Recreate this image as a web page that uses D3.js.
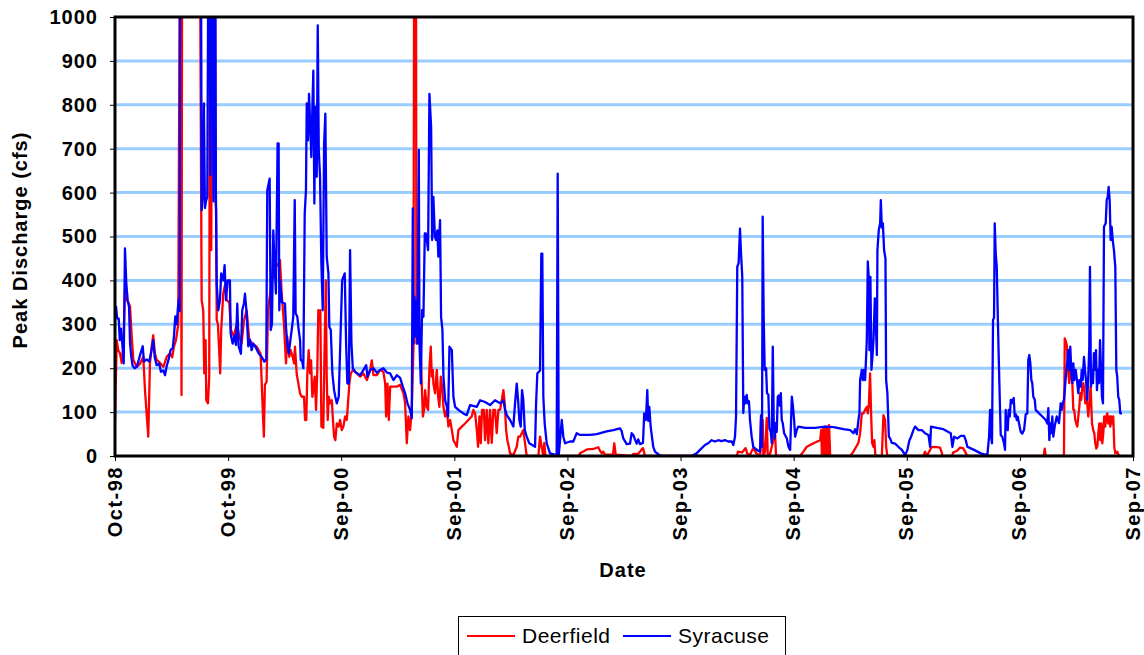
<!DOCTYPE html>
<html>
<head>
<meta charset="utf-8">
<script src="https://cdn.jsdelivr.net/npm/d3@7"></script>
<style>
  body { margin: 0; background: #fff; }
  text { font-family: "Liberation Sans", Arial, sans-serif; }
</style>
</head>
<body>
<svg id="chart" width="1144" height="655"></svg>
<script>
// data, x as decimal year
var seriesNames = ['Deerfield', 'Syracuse'];
var xTickLabels = ['Oct-98', 'Oct-99', 'Sep-00', 'Sep-01', 'Sep-02', 'Sep-03', 'Sep-04', 'Sep-05', 'Sep-06', 'Sep-07'];
var yTicks = [0, 100, 200, 300, 400, 500, 600, 700, 800, 900, 1000];

var deerfield = [
  [1998.748,82],[1998.763,264],[1998.777,241],[1998.792,234],[1998.807,212],[1998.821,245],[1998.836,378],[1998.851,355],
  [1998.866,350],[1998.881,340],[1998.896,272],[1998.910,219],[1998.940,203],[1998.969,210],[1998.998,226],[1999.013,150],
  [1999.042,44],[1999.057,211],[1999.072,249],[1999.086,275],[1999.101,234],[1999.116,219],[1999.146,212],[1999.175,203],
  [1999.205,226],[1999.234,234],[1999.254,225],[1999.269,249],[1999.287,264],[1999.307,300],[1999.327,1500],[1999.336,139],
  [1999.343,1500],[1999.411,1500],[1999.493,1500],[1999.514,355],[1999.528,332],[1999.537,188],[1999.549,264],[1999.555,127],
  [1999.570,120],[1999.581,181],[1999.590,1500],[1999.599,469],[1999.609,1500],[1999.627,1500],[1999.636,583],[1999.642,560],
  [1999.647,310],[1999.658,300],[1999.678,188],[1999.687,287],[1999.705,370],[1999.720,389],[1999.735,355],[1999.758,350],
  [1999.773,287],[1999.799,272],[1999.823,300],[1999.846,275],[1999.867,256],[1999.888,308],[1999.912,332],[1999.935,264],
  [1999.965,256],[2000.000,249],[2000.035,233],[2000.053,112],[2000.064,44],[2000.073,162],[2000.088,169],[2000.100,332],
  [2000.135,400],[2000.177,438],[2000.200,431],[2000.206,446],[2000.221,370],[2000.241,302],[2000.259,211],[2000.270,272],
  [2000.288,226],[2000.300,241],[2000.318,226],[2000.330,211],[2000.338,249],[2000.353,188],[2000.368,165],[2000.383,143],
  [2000.397,135],[2000.418,135],[2000.427,82],[2000.438,82],[2000.447,188],[2000.459,241],[2000.471,188],[2000.480,218],
  [2000.491,135],[2000.500,150],[2000.512,181],[2000.524,105],[2000.535,196],[2000.544,332],[2000.553,310],[2000.562,332],
  [2000.571,67],[2000.588,64],[2000.597,211],[2000.610,400],[2000.618,181],[2000.627,82],[2000.636,135],[2000.648,120],
  [2000.663,127],[2000.671,90],[2000.683,44],[2000.694,36],[2000.707,74],[2000.724,67],[2000.736,82],[2000.751,59],
  [2000.765,67],[2000.780,90],[2000.795,82],[2000.818,166],[2000.830,188],[2000.848,196],[2000.883,188],[2000.913,181],
  [2000.942,188],[2000.972,173],[2001.001,196],[2001.016,218],[2001.030,184],[2001.060,184],[2001.089,196],[2001.118,192],
  [2001.134,165],[2001.142,90],[2001.154,165],[2001.166,82],[2001.178,158],[2001.207,158],[2001.237,158],[2001.266,162],
  [2001.295,143],[2001.310,120],[2001.325,29],[2001.339,90],[2001.354,59],[2001.369,105],[2001.384,249],[2001.392,1500],
  [2001.405,1500],[2001.410,256],[2001.419,347],[2001.428,272],[2001.437,290],[2001.449,226],[2001.467,90],[2001.478,105],
  [2001.487,150],[2001.502,112],[2001.513,105],[2001.525,200],[2001.537,249],[2001.546,181],[2001.555,196],[2001.560,165],
  [2001.575,143],[2001.590,196],[2001.602,135],[2001.613,112],[2001.626,181],[2001.637,158],[2001.649,112],[2001.664,90],
  [2001.679,105],[2001.693,67],[2001.708,82],[2001.723,59],[2001.737,36],[2001.752,29],[2001.767,21],[2001.781,59],
  [2001.811,67],[2001.840,74],[2001.869,82],[2001.899,90],[2001.914,105],[2001.929,97],[2001.944,59],[2001.955,21],
  [2001.967,90],[2001.979,29],[2001.990,105],[2002.006,105],[2002.017,36],[2002.032,105],[2002.046,29],[2002.061,105],
  [2002.076,30],[2002.090,105],[2002.105,105],[2002.120,52],[2002.135,105],[2002.150,105],[2002.179,150],[2002.191,120],
  [2002.203,59],[2002.214,36],[2002.227,21],[2002.238,6],[2002.267,2],[2002.297,21],[2002.311,44],[2002.326,44],
  [2002.355,59],[2002.370,30],[2002.385,0],[2002.488,0],[2002.503,44],[2002.518,20],[2002.532,0],[2002.541,30],
  [2002.550,0],[2002.847,0],[2002.856,6],[2002.885,10],[2002.916,15],[2002.974,16],[2003.018,20],[2003.033,12],
  [2003.048,6],[2003.062,10],[2003.077,3],[2003.148,3],[2003.159,29],[2003.172,3],[2003.313,0],[2003.327,5],
  [2003.371,5],[2003.413,18],[2003.431,0],[2004.243,0],[2004.252,10],[2004.288,8],[2004.320,18],[2004.334,5],
  [2004.358,3],[2004.387,18],[2004.417,5],[2004.449,0],[2004.455,82],[2004.470,82],[2004.476,0],[2004.491,10],
  [2004.506,87],[2004.515,0],[2004.535,5],[2004.564,36],[2004.579,52],[2004.588,0],[2004.800,0],[2004.829,10],
  [2004.859,21],[2004.918,29],[2004.977,36],[2004.986,59],[2004.992,0],[2005.001,61],[2005.009,0],[2005.018,67],
  [2005.030,0],[2005.039,67],[2005.047,0],[2005.056,70],[2005.065,0],[2005.242,0],[2005.271,10],[2005.295,21],
  [2005.315,30],[2005.330,52],[2005.345,97],[2005.359,97],[2005.374,105],[2005.389,112],[2005.398,97],[2005.407,116],
  [2005.418,188],[2005.427,97],[2005.436,30],[2005.448,21],[2005.456,36],[2005.465,0],[2005.522,0],[2005.536,93],
  [2005.551,82],[2005.560,21],[2005.571,0],[2005.889,0],[2005.904,10],[2005.919,0],[2005.964,21],[2006.008,20],
  [2006.037,19],[2006.061,0],[2006.146,0],[2006.152,8],[2006.187,12],[2006.214,19],[2006.240,18],[2006.258,10],
  [2006.278,0],[2006.953,0],[2006.962,17],[2006.971,0],[2007.132,0],[2007.139,268],[2007.150,260],[2007.159,250],
  [2007.168,196],[2007.179,166],[2007.188,196],[2007.197,188],[2007.206,166],[2007.215,105],[2007.223,105],[2007.232,82],
  [2007.241,74],[2007.250,67],[2007.259,90],[2007.268,112],[2007.276,143],[2007.285,128],[2007.294,158],[2007.303,166],
  [2007.312,150],[2007.321,120],[2007.329,128],[2007.338,120],[2007.347,90],[2007.356,120],[2007.368,158],[2007.380,74],
  [2007.391,59],[2007.400,52],[2007.409,29],[2007.418,17],[2007.427,21],[2007.436,52],[2007.444,74],[2007.453,36],
  [2007.462,74],[2007.471,29],[2007.480,52],[2007.488,90],[2007.497,67],[2007.506,90],[2007.515,97],[2007.524,74],
  [2007.533,90],[2007.542,67],[2007.550,90],[2007.559,74],[2007.568,90],[2007.577,21],[2007.586,6],[2007.603,10],
  [2007.618,0]
];

var syracuse = [
  [1998.748,340],[1998.757,340],[1998.768,313],[1998.781,313],[1998.790,264],[1998.801,290],[1998.812,257],[1998.825,211],
  [1998.836,473],[1998.848,393],[1998.860,355],[1998.872,340],[1998.881,257],[1998.892,226],[1998.904,205],[1998.922,200],
  [1998.940,203],[1998.957,218],[1998.975,235],[1998.993,250],[1999.004,215],[1999.028,220],[1999.051,215],[1999.069,238],
  [1999.086,264],[1999.099,225],[1999.116,207],[1999.139,210],[1999.154,192],[1999.175,195],[1999.190,184],[1999.205,205],
  [1999.222,220],[1999.240,242],[1999.258,245],[1999.269,272],[1999.281,318],[1999.293,300],[1999.305,340],[1999.313,358],
  [1999.320,330],[1999.325,1500],[1999.411,1400],[1999.505,1500],[1999.514,560],[1999.526,600],[1999.534,803],[1999.543,565],
  [1999.552,580],[1999.564,590],[1999.579,1500],[1999.592,640],[1999.605,1500],[1999.618,580],[1999.632,1500],[1999.640,600],
  [1999.647,393],[1999.661,332],[1999.676,355],[1999.687,416],[1999.705,400],[1999.717,435],[1999.729,355],[1999.744,400],
  [1999.764,400],[1999.770,279],[1999.788,256],[1999.806,275],[1999.817,253],[1999.829,347],[1999.841,250],[1999.861,233],
  [1999.873,332],[1999.888,348],[1999.897,370],[1999.912,325],[1999.926,250],[1999.941,265],[1999.956,241],[1999.970,256],
  [1999.991,248],[2000.020,233],[2000.044,226],[2000.067,215],[2000.085,220],[2000.094,605],[2000.115,632],[2000.124,287],
  [2000.135,300],[2000.147,514],[2000.159,430],[2000.170,370],[2000.185,712],[2000.194,712],[2000.200,332],[2000.206,400],
  [2000.223,350],[2000.250,347],[2000.259,294],[2000.270,256],[2000.283,234],[2000.294,256],[2000.309,287],[2000.323,317],
  [2000.336,583],[2000.344,325],[2000.359,317],[2000.371,287],[2000.383,264],[2000.389,218],[2000.400,218],[2000.412,200],
  [2000.424,552],[2000.435,605],[2000.442,803],[2000.453,719],[2000.462,825],[2000.471,765],[2000.482,681],[2000.491,787],
  [2000.500,878],[2000.509,575],[2000.518,795],[2000.530,636],[2000.539,981],[2000.548,697],[2000.559,636],[2000.571,438],
  [2000.583,332],[2000.595,712],[2000.606,780],[2000.618,454],[2000.633,416],[2000.641,294],[2000.654,287],[2000.668,188],
  [2000.683,150],[2000.694,135],[2000.707,120],[2000.724,135],[2000.736,241],[2000.754,400],[2000.765,408],[2000.777,416],
  [2000.789,256],[2000.800,165],[2000.813,165],[2000.824,469],[2000.836,256],[2000.848,200],[2000.868,192],[2000.889,188],
  [2000.913,184],[2000.942,196],[2000.966,207],[2000.977,181],[2001.001,196],[2001.030,200],[2001.060,190],[2001.089,196],
  [2001.118,200],[2001.149,190],[2001.178,188],[2001.207,173],[2001.237,184],[2001.266,178],[2001.290,158],[2001.310,143],
  [2001.331,120],[2001.354,105],[2001.369,86],[2001.378,564],[2001.384,256],[2001.392,363],[2001.405,272],[2001.414,355],
  [2001.419,256],[2001.431,697],[2001.437,256],[2001.449,165],[2001.460,332],[2001.472,317],[2001.484,507],[2001.493,507],
  [2001.502,492],[2001.513,469],[2001.525,825],[2001.540,750],[2001.549,492],[2001.560,590],[2001.573,500],[2001.584,492],
  [2001.595,514],[2001.604,454],[2001.619,537],[2001.628,317],[2001.640,287],[2001.649,181],[2001.664,127],[2001.679,112],
  [2001.690,90],[2001.702,249],[2001.723,241],[2001.737,135],[2001.752,112],[2001.781,105],[2001.825,97],[2001.855,93],
  [2001.884,116],[2001.944,112],[2001.973,127],[2002.017,123],[2002.061,116],[2002.105,127],[2002.150,120],[2002.179,127],
  [2002.194,105],[2002.209,93],[2002.238,82],[2002.267,67],[2002.282,120],[2002.297,165],[2002.309,127],[2002.320,82],
  [2002.332,67],[2002.344,150],[2002.355,127],[2002.368,59],[2002.385,44],[2002.408,29],[2002.459,21],[2002.468,120],
  [2002.479,188],[2002.503,195],[2002.514,461],[2002.523,461],[2002.532,135],[2002.544,74],[2002.562,29],[2002.591,6],
  [2002.650,2],[2002.659,643],[2002.668,2],[2002.680,36],[2002.695,82],[2002.709,44],[2002.724,29],[2002.768,33],
  [2002.797,33],[2002.827,52],[2002.856,48],[2002.945,48],[2003.004,50],[2003.092,56],[2003.151,59],[2003.210,63],
  [2003.225,56],[2003.239,40],[2003.269,27],[2003.298,28],[2003.313,52],[2003.327,48],[2003.342,38],[2003.357,28],
  [2003.371,38],[2003.386,27],[2003.413,30],[2003.424,97],[2003.439,82],[2003.451,150],[2003.460,80],[2003.469,112],
  [2003.481,67],[2003.492,44],[2003.504,21],[2003.519,10],[2003.548,4],[2003.578,0],[2003.843,0],[2003.887,6],
  [2003.917,14],[2003.961,25],[2003.990,29],[2004.020,36],[2004.049,33],[2004.078,36],[2004.108,34],[2004.137,36],
  [2004.167,33],[2004.197,33],[2004.211,25],[2004.226,44],[2004.235,90],[2004.246,431],[2004.258,440],[2004.270,518],
  [2004.279,462],[2004.290,408],[2004.299,98],[2004.308,135],[2004.317,120],[2004.329,139],[2004.338,120],[2004.349,125],
  [2004.358,82],[2004.373,44],[2004.387,21],[2004.417,14],[2004.447,10],[2004.455,93],[2004.464,21],[2004.470,545],
  [2004.479,314],[2004.488,196],[2004.500,200],[2004.508,143],[2004.520,140],[2004.529,63],[2004.541,55],[2004.550,29],
  [2004.559,249],[2004.568,67],[2004.576,40],[2004.585,75],[2004.594,55],[2004.603,135],[2004.612,138],[2004.621,115],
  [2004.630,143],[2004.638,82],[2004.647,75],[2004.659,52],[2004.683,40],[2004.697,21],[2004.712,14],[2004.727,135],
  [2004.736,115],[2004.747,82],[2004.756,44],[2004.771,60],[2004.785,67],[2004.844,64],[2004.933,64],[2005.021,67],
  [2005.094,66],[2005.183,61],[2005.242,59],[2005.271,52],[2005.286,61],[2005.301,50],[2005.315,82],[2005.324,97],
  [2005.330,173],[2005.345,196],[2005.354,173],[2005.363,196],[2005.374,173],[2005.383,226],[2005.389,264],[2005.398,443],
  [2005.407,401],[2005.412,241],[2005.421,408],[2005.430,196],[2005.439,226],[2005.448,264],[2005.460,359],[2005.469,300],
  [2005.478,230],[2005.483,469],[2005.495,515],[2005.507,530],[2005.513,583],[2005.522,520],[2005.531,530],[2005.542,469],
  [2005.554,450],[2005.560,173],[2005.571,143],[2005.584,44],[2005.595,40],[2005.610,30],[2005.639,28],[2005.668,21],
  [2005.699,14],[2005.728,2],[2005.748,14],[2005.766,36],[2005.781,44],[2005.801,59],[2005.816,67],[2005.845,59],
  [2005.875,59],[2005.904,52],[2005.934,48],[2005.949,21],[2005.957,67],[2006.008,64],[2006.066,61],[2006.131,52],
  [2006.146,21],[2006.161,44],[2006.190,40],[2006.220,46],[2006.249,46],[2006.264,36],[2006.278,21],[2006.337,14],
  [2006.397,6],[2006.455,2],[2006.470,44],[2006.479,105],[2006.487,44],[2006.496,29],[2006.505,310],[2006.514,315],
  [2006.520,530],[2006.529,460],[2006.538,431],[2006.547,320],[2006.556,219],[2006.564,135],[2006.573,48],[2006.587,44],
  [2006.602,29],[2006.611,14],[2006.617,105],[2006.626,67],[2006.635,59],[2006.644,105],[2006.653,90],[2006.662,128],
  [2006.670,120],[2006.679,128],[2006.688,132],[2006.697,90],[2006.706,95],[2006.715,82],[2006.723,90],[2006.735,74],
  [2006.750,55],[2006.764,51],[2006.779,59],[2006.794,95],[2006.808,97],[2006.817,219],[2006.826,230],[2006.835,211],
  [2006.844,173],[2006.852,166],[2006.861,135],[2006.874,128],[2006.882,105],[2006.912,97],[2006.941,90],[2006.971,82],
  [2006.985,74],[2006.994,109],[2007.003,36],[2007.011,74],[2007.020,52],[2007.029,90],[2007.038,44],[2007.050,67],
  [2007.068,90],[2007.088,75],[2007.103,120],[2007.112,105],[2007.121,120],[2007.132,128],[2007.144,166],[2007.153,196],
  [2007.162,215],[2007.170,241],[2007.179,196],[2007.188,249],[2007.197,196],[2007.206,166],[2007.215,211],[2007.223,173],
  [2007.236,196],[2007.250,166],[2007.259,143],[2007.268,173],[2007.280,158],[2007.289,196],[2007.298,173],[2007.309,226],
  [2007.318,196],[2007.327,173],[2007.338,128],[2007.347,181],[2007.356,249],[2007.362,431],[2007.371,158],[2007.380,196],
  [2007.389,166],[2007.397,234],[2007.406,196],[2007.415,241],[2007.424,150],[2007.433,196],[2007.442,166],[2007.451,264],
  [2007.459,203],[2007.468,135],[2007.477,120],[2007.486,522],[2007.501,530],[2007.510,583],[2007.519,590],[2007.527,613],
  [2007.536,583],[2007.545,492],[2007.554,522],[2007.563,492],[2007.574,469],[2007.586,431],[2007.595,196],[2007.603,181],
  [2007.612,135],[2007.621,128],[2007.630,97],[2007.645,97]
];

function toDate(yr) {
  var y0 = Math.floor(yr);
  var a = Date.UTC(y0, 0, 1), b = Date.UTC(y0 + 1, 0, 1);
  return new Date(a + (yr - y0) * (b - a));
}

var plotLeft = 115, plotRight = 1133, plotTop = 17, plotBottom = 456;
var DAY = 864e5;
var startMs = Date.UTC(1998, 9, 1);
// the axis steps by 365 days
var tickDates = xTickLabels.map(function(d, i) { return new Date(startMs + i * 365 * DAY); });

var svg = d3.select('#chart');

var x = d3.scaleUtc()
  .domain([tickDates[0], tickDates[tickDates.length - 1]])
  .range([plotLeft, plotRight]);

var y = d3.scaleLinear()
  .domain([0, 1000])
  .range([plotBottom, plotTop]);

// gridlines
svg.append('g')
  .selectAll('line')
  .data(yTicks.slice(1, -1))
  .join('line')
    .attr('x1', plotLeft)
    .attr('x2', plotRight)
    .attr('y1', function(d) { return y(d); })
    .attr('y2', function(d) { return y(d); })
    .attr('stroke', '#99ccff')
    .attr('stroke-width', 3);

svg.append('defs')
  .append('clipPath')
    .attr('id', 'plot')
  .append('rect')
    .attr('x', plotLeft)
    .attr('y', plotTop)
    .attr('width', plotRight - plotLeft)
    .attr('height', plotBottom - plotTop);

var line = d3.line()
  .x(function(d) { return x(toDate(d[0])); })
  .y(function(d) { return y(d[1]); });

var lines = svg.append('g').attr('clip-path', 'url(#plot)');

lines.append('path')
  .datum(deerfield)
  .attr('d', line)
  .attr('fill', 'none')
  .attr('stroke', '#ff0000')
  .attr('stroke-width', 2.3)
  .attr('stroke-linejoin', 'round');

lines.append('path')
  .datum(syracuse)
  .attr('d', line)
  .attr('fill', 'none')
  .attr('stroke', '#0000ff')
  .attr('stroke-width', 2.3)
  .attr('stroke-linejoin', 'round');

// plot border
svg.append('rect')
  .attr('x', plotLeft)
  .attr('y', plotTop)
  .attr('width', plotRight - plotLeft)
  .attr('height', plotBottom - plotTop)
  .attr('fill', 'none')
  .attr('stroke', '#000')
  .attr('stroke-width', 3);

var yAxis = svg.append('g')
  .attr('transform', 'translate(' + plotLeft + ',0)')
  .call(d3.axisLeft(y)
    .tickValues(yTicks)
    .tickFormat(d3.format('d'))
    .tickSize(5)
    .tickPadding(12));
yAxis.select('.domain').remove();
yAxis.selectAll('line').attr('stroke', '#000');
yAxis.selectAll('text')
  .attr('font-family', '"Liberation Sans", Arial, sans-serif')
  .attr('font-size', 20)
  .attr('font-weight', 'bold')
  .attr('letter-spacing', 1)
  .attr('fill', '#000');

var xAxis = svg.append('g')
  .attr('transform', 'translate(0,' + plotBottom + ')')
  .call(d3.axisBottom(x)
    .tickValues(tickDates)
    .tickSize(5)
    .tickFormat(function(d, i) { return xTickLabels[i]; }));
xAxis.select('.domain').remove();
xAxis.selectAll('line').attr('stroke', '#000');
xAxis.selectAll('text')
  .attr('transform', 'rotate(-90)')
  .attr('text-anchor', 'end')
  .attr('x', -10)
  .attr('y', 6)
  .attr('dy', 0)
  .attr('font-family', '"Liberation Sans", Arial, sans-serif')
  .attr('font-size', 20)
  .attr('font-weight', 'bold')
  .attr('letter-spacing', 1.5)
  .attr('fill', '#000');

svg.append('text')
  .attr('transform', 'translate(27,240) rotate(-90)')
  .attr('text-anchor', 'middle')
  .attr('font-size', 20)
  .attr('font-weight', 'bold')
  .attr('letter-spacing', 1)
  .text('Peak Discharge (cfs)');

svg.append('text')
  .attr('x', 623)
  .attr('y', 577)
  .attr('text-anchor', 'middle')
  .attr('font-size', 20)
  .attr('font-weight', 'bold')
  .attr('letter-spacing', 1)
  .text('Date');

// legend
var legend = svg.append('g');
legend.append('rect')
  .attr('x', 458.5)
  .attr('y', 616.5)
  .attr('width', 327)
  .attr('height', 50)
  .attr('fill', '#fff')
  .attr('stroke', '#000')
  .attr('stroke-width', 1);

var legendColors = ['#ff0000', '#0000ff'];
var legendX = [467, 623];
seriesNames.forEach(function(name, i) {
  legend.append('line')
    .attr('x1', legendX[i])
    .attr('x2', legendX[i] + 48)
    .attr('y1', 636)
    .attr('y2', 636)
    .attr('stroke', legendColors[i])
    .attr('stroke-width', 2);
  legend.append('text')
    .attr('x', legendX[i] + 55)
    .attr('y', 643)
    .attr('font-size', 21)
    .attr('letter-spacing', 0.5)
    .text(name);
});
</script>
</body>
</html>
